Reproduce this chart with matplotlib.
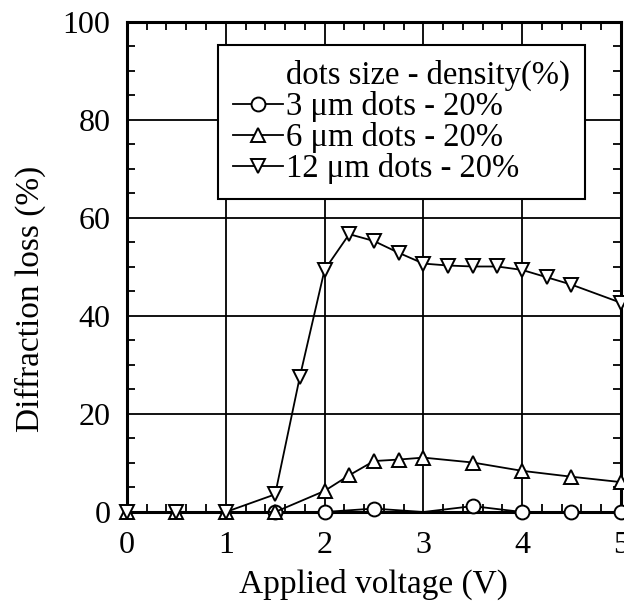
import matplotlib
matplotlib.use("Agg")
import matplotlib.pyplot as plt
from matplotlib.lines import Line2D
from matplotlib.ticker import MultipleLocator

plt.rcParams["font.family"] = ["Liberation Serif", "DejaVu Serif"]

# 12 um dots - 20%
v12 = [0, 0.5, 1, 1.5, 1.75, 2, 2.25, 2.5, 2.75, 3, 3.25, 3.5, 3.75, 4, 4.25, 4.5, 5]
loss12 = [0, 0, 0, 3.6, 27.6, 49.4, 56.7, 55.3, 52.9, 50.7, 50.3, 50.1, 50.1, 49.4, 47.9, 46.4, 42.7]

# 6 um dots - 20%
v6 = [0, 0.5, 1, 1.5, 2, 2.25, 2.5, 2.75, 3, 3.5, 4, 4.5, 5]
loss6 = [0, 0, 0, 0, 4.3, 7.5, 10.4, 10.7, 11.1, 10.1, 8.4, 7.2, 6.1]

# 3 um dots - 20% (point at 3 V has no marker in the original)
v3 = [1.5, 2, 2.5, 3, 3.5, 4, 4.5, 5]
loss3 = [0, 0, 0.7, 0, 1.2, 0, 0, 0]
mark3 = [0, 1, 2, 4, 5, 6, 7]

labels = ["3 \u03bcm dots - 20%", "6 \u03bcm dots - 20%", "12 \u03bcm dots - 20%"]
legend_title = "dots size - density(%)"

fig = plt.figure(figsize=(6.24, 6.02), dpi=100)
ax = fig.add_axes([0.2035, 0.1495, 0.7915, 0.814])

style = dict(color="black", lw=1.3, mfc="white", mec="black", mew=1.4,
             ms=10, clip_on=False, zorder=5)
l3, = ax.plot(v3, loss3, marker="o", markevery=mark3, **style)
l6, = ax.plot(v6, loss6, marker="^", **style)
l12, = ax.plot(v12, loss12, marker="v", **style)

ax.set_xlim(0, 5)
ax.set_ylim(0, 100)
ax.xaxis.set_major_locator(MultipleLocator(1))
ax.xaxis.set_minor_locator(MultipleLocator(0.2))
ax.yaxis.set_major_locator(MultipleLocator(20))
ax.yaxis.set_minor_locator(MultipleLocator(5))
ax.grid(True, which="major", color="black", lw=1.3)
ax.tick_params(which="both", direction="in", top=True, right=True, labelsize=23)
ax.tick_params(which="major", length=0, width=1.3)
ax.tick_params(which="minor", length=6, width=1.3)
ax.tick_params(axis="x", which="major", pad=14)
ax.tick_params(axis="y", which="major", pad=12)
for sp in ax.spines.values():
    sp.set_linewidth(2.2)

ax.set_xlabel("Applied voltage (V)", fontsize=24, labelpad=6)
ax.set_ylabel("Diffraction loss (%)", fontsize=24)
ax.yaxis.set_label_coords(-0.163, 0.435)

title_handle = Line2D([], [], color="none")
leg = ax.legend([title_handle, l3, l6, l12], [legend_title] + labels,
                loc="upper left", bbox_to_anchor=(0.184, 0.952),
                fontsize=23.5, frameon=True, fancybox=False, framealpha=1,
                handlelength=1.55, handletextpad=0.1, borderpad=0.45,
                labelspacing=0.0, borderaxespad=0)
leg.get_frame().set_edgecolor("black")
leg.get_frame().set_linewidth(1.5)
leg.set_zorder(10)

fig.savefig("out.png", dpi=100)
